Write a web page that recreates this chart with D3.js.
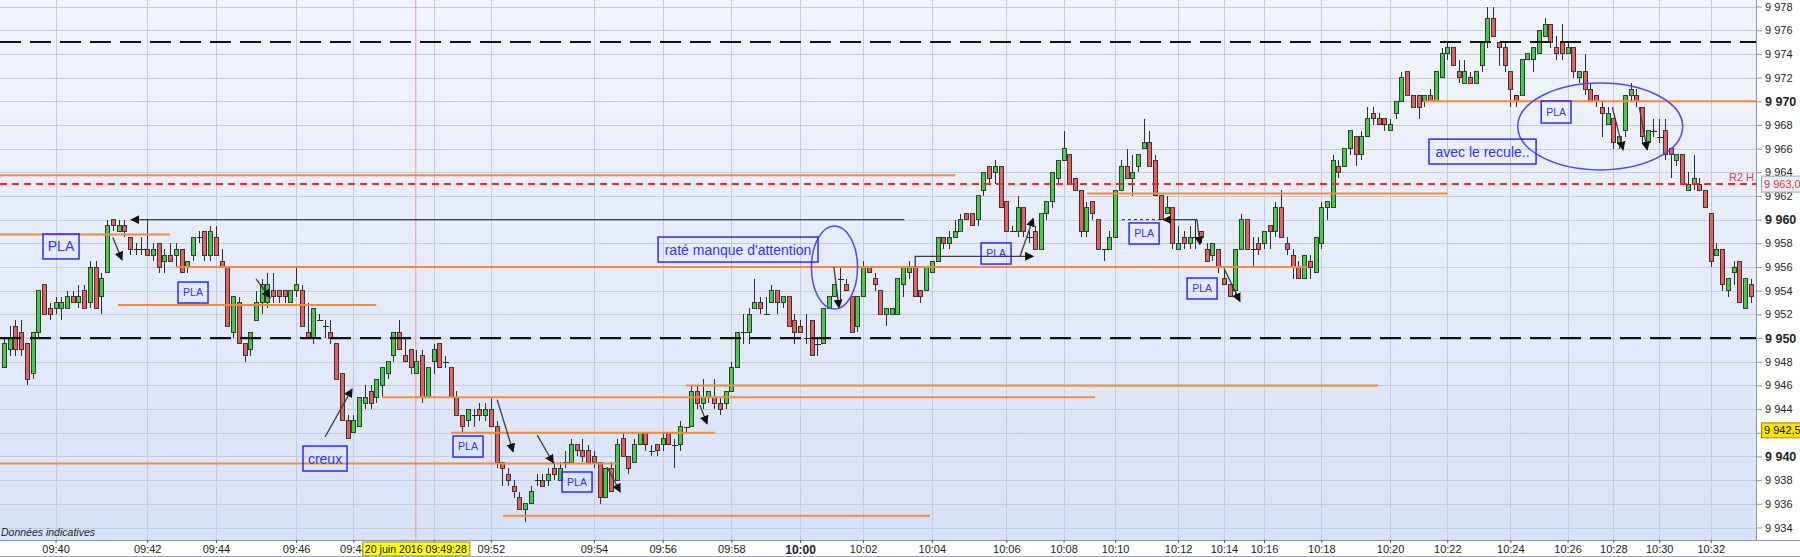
<!DOCTYPE html>
<html><head><meta charset="utf-8">
<script src="https://cdn.jsdelivr.net/npm/d3@7"></script>
<style>
body{margin:0;background:#fff;}
svg{display:block;font-family:"Liberation Sans",Arial,sans-serif;}
</style>
</head><body>
<svg id="chart" width="1800" height="557"></svg>
<script>
// ---- DATA: candles [open, high, low, close], one array per time block ----
const seg0939 = [
[9947.5,9950,9947.5,9949.5],[9949,9951,9948.5,9950],[9951,9951.5,9948.5,9949],[9950.5,9951.5,9948.5,9949],[9949.5,9949.5,9946,9946.5],
[9947,9950.5,9946.5,9950.5],[9950.5,9954,9950,9954],[9954.5,9954.5,9952,9952],[9952.5,9953,9951.5,9952],[9952.5,9953.5,9952,9953],
[9952.5,9953.5,9951.5,9953],[9952.5,9954,9952.5,9953.5],[9953.5,9954,9953,9953],[9953,9954.5,9952.5,9953.5],[9954,9954.5,9952.5,9952.5],
[9953,9956.5,9952.5,9956],[9956,9956.5,9952.5,9952.5],[9953.5,9955.5,9952,9955],[9955.5,9960,9955.5,9959.5],[9960,9960,9959,9959.5],
[9959,9960,9959,9959.5],[9959.5,9960,9958.5,9959],[9958.5,9958.5,9957,9957.5],[9957.5,9958,9957,9957.5],[9957.5,9958.5,9957,9957.5],
[9957.5,9960,9957,9957],[9957,9958,9956.5,9957.5],[9958,9958,9955.5,9956],[9956.5,9957.5,9955.5,9957],[9957,9958,9956.5,9956.5],
[9957,9958,9956,9957.5],[9957.5,9957.5,9955.5,9955.5],[9956,9956.5,9955.5,9956.5],[9957,9958.5,9956.5,9958.5],[9958.5,9959,9958,9958.5],
[9959,9959,9956.5,9957],[9957,9959.5,9956.5,9959],[9958.5,9959.5,9957,9957],[9956.5,9957.5,9956,9956],[9956,9956,9951,9951],
[9950.5,9953.5,9950,9953.5],[9953,9953.5,9949.5,9949.5],[9949.5,9949.5,9948,9948.5],[9949,9950.5,9948.5,9950.5],[9951.5,9954,9951.5,9953],
[9953,9955,9952,9954.5],[9953,9955.5,9952.5,9954.5],[9954,9955.5,9953,9953.5],[9954,9954,9953,9953.5],[9954,9954,9953,9953.5],
[9953,9954,9953,9954],[9954,9956,9953.5,9954.5],[9954,9954.5,9951,9951],[9950.5,9953,9950,9950],[9950,9952.5,9949.5,9952.5],
[9951.5,9952,9951.5,9951.5],[9951,9951.5,9950,9951],[9950.5,9951.5,9949.5,9950],[9949.5,9949.5,9946.5,9946.5],[9947,9947,9943,9943],
[9943,9943.5,9941.5,9941.5],[9942,9943.5,9942,9943],[9942.5,9945,9942.5,9945],[9944.5,9946,9944,9945],[9945.5,9946,9944,9944.5],
[9945,9946.5,9944.5,9946.5],[9946,9947.5,9945,9947.5],[9947,9948,9946.5,9948],[9948.5,9950.5,9948,9950.5],[9950.5,9951.5,9949,9949],
[9948.5,9950,9948,9948],[9949,9949,9947,9947.5],[9947,9949,9947,9948],[9948.5,9949,9944.5,9945],[9945,9947.5,9945,9947.5],
[9948,9949.5,9947,9949]
];
const seg0950 = [
[9949.5,9949.5,9947.5,9947.5],[9948,9948.5,9947.5,9948],[9947.5,9947.5,9945,9945],[9945,9945.5,9943.5,9943.5],[9943.5,9943.5,9942,9942.5],
[9943,9944,9942.5,9944],[9943.5,9944,9942.5,9943.5],[9944,9944.5,9943,9943.5],[9943.5,9944.5,9943,9944],[9944,9945,9942.5,9942.5],
[9942.5,9943,9939,9939.5],[9939.5,9939.5,9937.5,9939],[9938.5,9939,9937.5,9938],[9937.5,9938,9936.5,9937],[9936.5,9937,9935.5,9935.5],
[9935.5,9936,9934.5,9936],[9936,9937.5,9936,9937],[9938,9938.5,9937.5,9938],[9938,9938.5,9937.5,9937.5],[9938,9939,9937.5,9938.5],
[9939,9939.5,9938,9938.5],[9938,9939.5,9938,9939],[9939.5,9940.5,9939,9939.5],[9939.5,9941.5,9939.5,9941],[9941,9941,9940,9940.5],
[9940.5,9941.5,9939.5,9940],[9940.5,9941,9939.5,9939.5],[9940,9940.5,9939,9939.5],[9939.5,9939.5,9936,9936.5],[9936.5,9939,9936.5,9939],
[9939,9939.5,9937,9937],[9938,9941.5,9938,9941],[9941.5,9942,9940,9940],[9940,9940,9938.5,9939],[9939.5,9941.5,9939.5,9941],
[9941,9942,9941,9942],[9942,9942,9940.5,9941],[9940.5,9941,9940,9940.5],[9941,9941,9940,9940.5],[9941,9942,9940.5,9941.5],
[9942,9942,9941,9941],[9941,9941.5,9939,9941],[9941,9943,9940.5,9942.5],[9942.5,9942.5,9942,9942.5],[9942.5,9946,9942.5,9945.5],
[9945.5,9946,9944,9944.5],[9944.5,9946.5,9944,9945],[9945,9945.5,9944.5,9945.5],[9945,9946.5,9944,9944.5],[9944.5,9945,9943.5,9944],
[9944.5,9945.5,9944,9945.5],[9945.5,9948,9945.5,9947.5],[9947.5,9950.5,9947.5,9950.5],[9950.5,9952,9949.5,9950.5],[9950.5,9952.5,9949.5,9952],
[9952.5,9955,9952.5,9953],[9953,9953.5,9952,9952.5],[9952,9953.5,9952,9952],[9953,9954.5,9953,9954],[9954,9954,9952,9953],
[9953,9953.5,9952.5,9953.5],[9953.5,9953.5,9951,9951],[9951.5,9952,9949.5,9950.5],[9951,9951.5,9950.5,9950.5],[9950,9952,9949.5,9950],
[9951.5,9951.5,9948.5,9948.5],[9949.5,9950,9948.5,9949.5],[9949.5,9952.5,9949.5,9952.5],[9952.5,9953.5,9952.5,9953.5],[9953.5,9954.5,9953.5,9954.5],
[9955,9956,9953,9955],[9954.5,9955,9954,9954],[9953.5,9953.5,9950.5,9950.5],[9951,9953.5,9950.5,9953.5],[9953.5,9956.5,9953.5,9956]
];
const seg1002 = [
[9956,9956,9955.5,9955.5],[9955,9955.5,9954,9954.5],[9954,9954,9952,9952],[9952,9952.5,9951,9952.5],[9952,9952.5,9952,9952.5],
[9952,9955,9952,9955],[9954.5,9956,9953.5,9956],[9955.5,9956.5,9955,9956],[9956,9956,9953.5,9953.5],[9954,9954,9953,9953.5],
[9954,9956,9954,9956],[9955.5,9956.5,9955.5,9956.5],[9956.5,9958.5,9956.5,9958.5],[9958.5,9958.5,9957.5,9958],[9958,9959,9957.5,9958.5],
[9958.5,9960,9958.5,9959],[9959,9960.5,9959,9960],[9960.5,9960.5,9960,9960],[9960.5,9960.5,9959.5,9959.5],[9960,9962,9959.5,9962],
[9962.5,9964,9962,9964],[9964.5,9964.5,9963,9963.5],[9964,9965,9963,9964.5],[9964.5,9964.5,9961,9961],[9961.5,9961.5,9959,9959],
[9959,9959.5,9959,9959],[9959,9962,9958.5,9961],[9961,9961,9958.5,9959],[9958.5,9959,9958,9958.5],[9959,9959.5,9957.5,9957.5],
[9957.5,9960.5,9957.5,9960.5],[9960.5,9961.5,9960,9961.5],[9961.5,9964,9961,9964],[9963.5,9965,9963,9965],[9965,9967.5,9965,9966],
[9965.5,9965.5,9963,9963],[9963.5,9963.5,9962.5,9962.5],[9962.5,9962.5,9958.5,9959],[9959,9961.5,9958.5,9961],[9961.5,9961.5,9960,9960.5],
[9960,9960,9957.5,9957.5],[9957.5,9957.5,9956.5,9957.5],[9957.5,9959,9957.5,9958.5],[9958.5,9962.5,9958.5,9962.5],[9962.5,9965,9962.5,9964.5],
[9964.5,9966,9963.5,9963.5],[9963.5,9965.5,9962,9964],[9964.5,9965.5,9964,9965.5],[9966,9968.5,9966,9966.5],[9966.5,9967.5,9964.5,9964.5],
[9965,9965.5,9962,9962],[9962,9962,9960,9960],[9960.5,9962,9960.5,9961],[9961,9961,9957.5,9958],[9957.5,9959.5,9957.5,9958],
[9958.5,9959,9957.5,9958],[9958,9959.5,9957.5,9958.5],[9958.5,9960,9957.5,9958.5],[9959,9959,9958,9958.5],[9957.5,9958,9956.5,9956.5],
[9957,9958,9956.5,9958],[9957.5,9957.5,9955.5,9956],[9955,9956,9954.5,9954.5],[9954.5,9954.5,9953.5,9953.5],[9954,9957.5,9953.5,9957.5],
[9957.5,9960.5,9957.5,9960],[9960,9960,9957.5,9957.5],[9957.5,9958.5,9956,9957.5],[9958,9958.5,9957,9957.5],[9958,9959,9957.5,9959],
[9959.5,9959.5,9957.5,9959],[9959,9961.5,9958.5,9961],[9961,9962.5,9958.5,9958.5],[9958,9958.5,9957,9957.5],[9957,9957.5,9955,9956],
[9956,9956.5,9955,9955],[9955,9957,9955,9957],[9956.5,9957,9955,9956],[9955.5,9958.5,9955.5,9958.5],[9958,9961.5,9957.5,9961]
];
const seg1018 = [
[9961,9961.5,9960,9961.5],[9961,9965.5,9961,9965],[9964.5,9965,9963.5,9964],[9964.5,9966,9964.5,9966],[9966,9967.5,9965.5,9967.5],
[9967,9967,9964.5,9965.5],[9965.5,9967.5,9965,9967],[9967,9969.5,9967,9968.5],[9969,9969.5,9968,9968.5],[9968.5,9969,9968,9968],
[9968.5,9968.5,9967.5,9968],[9967.5,9968.5,9967.5,9968],[9969,9970,9968.5,9970],[9970,9972.5,9970,9972],[9972.5,9972.5,9970.5,9970.5],
[9970.5,9970.5,9969.5,9969.5],[9970.5,9970.5,9968.5,9969.5],[9970,9970.5,9969.5,9970.5],[9970.5,9971,9970,9970],[9970,9972.5,9970,9972.5],
[9972,9974.5,9972,9974],[9974,9975,9973.5,9974.5],[9974.5,9974.5,9973,9973],[9972.5,9973.5,9971.5,9972],[9971.5,9973.5,9971.5,9972.5],
[9972,9972.5,9971.5,9971.5],[9971.5,9972.5,9971.5,9972.5],[9973,9975,9972.5,9975],[9975,9978,9974.5,9977],[9977,9978,9975.5,9975.5],
[9975,9975,9973,9974.5],[9974.5,9975,9972.5,9973],[9972.5,9972.5,9969.5,9971],[9970.5,9970.5,9969.5,9970],[9970.5,9973.5,9970.5,9973.5],
[9973.5,9974,9973.5,9974],[9973.5,9974.5,9972.5,9974.5],[9974,9976,9974,9976],[9975.5,9977,9975.5,9976.5],[9976.5,9976.5,9974.5,9975],
[9974.5,9975.5,9973.5,9974],[9975,9976.5,9973.5,9974],[9974,9975,9974,9974.5],[9974.5,9974.5,9972,9972.5],[9972,9972.5,9971.5,9972.5],
[9972.5,9974,9970.5,9971],[9971,9971.5,9970,9970],[9970.5,9970.5,9969.5,9970],[9969.5,9970,9967,9969],[9968,9969.5,9968,9969],
[9968.5,9968.5,9966,9966.5],[9966.5,9967,9966,9967],[9967.5,9970.5,9967,9970.5],[9970.5,9971.5,9970,9971],[9970.5,9971,9969.5,9970],
[9969.5,9969.5,9966.5,9967],[9966.5,9967.5,9966.5,9967.5],[9967.5,9968.5,9967,9967.5],[9967,9968.5,9966.5,9967],[9967.5,9968.5,9965,9965.5],
[9966,9966,9963.5,9965.5],[9965,9965.5,9964.5,9965.5],[9965.5,9965.5,9963,9963],[9962.5,9964,9962.5,9963],[9963,9965.5,9962.5,9963.5],
[9963,9963.5,9962.5,9962.5],[9962.5,9962.5,9961,9961],[9960.5,9960.5,9956,9956.5],[9957,9958,9957,9957.5],[9957.5,9957.5,9954,9954.5],
[9954,9955,9953.5,9955],[9955.5,9956.5,9954.5,9956],[9956.5,9956.5,9953,9953],[9952.5,9955,9952.5,9955],[9954.5,9955,9953,9953.5]
];

// time axis: labels and the candle index where each label sits
// ("09:50" is hidden under the cursor date label in the reference)
const timeLabels = ["09:40","09:42","09:44","09:46","09:48","","09:52","09:54","09:56","09:58","10:00","10:02","10:04","10:06","10:08","10:10","10:12","10:14","10:16","10:18","10:20","10:22","10:24","10:26","10:28","10:30","10:32"];
const timeIndex  = [9,25,37,51,61,75,85,103,115,127,139,150,162,175,185,194,205,213,220,230,242,252,263,273,281,289,298];
const priceTicks = d3.range(9934, 9979, 2);
const hiddenPriceLabel = 9942; // covered by the last-price tag

// annotation levels
const orangeLevels = [ // [price, fromIndex, toIndex]
  [9963.75,-0.7,166.1],[9958.75,-0.7,29.0],[9956.0,30.0,227.7],[9952.8,19.9,65.0],
  [9946.0,119.1,239.9],[9945.0,66.0,190.5],[9942.0,78.05,124.1],[9939.4,-0.7,107.0],
  [9935.0,87.1,161.7],[9962.2,189.1,252.0],[9970.0,247.8,305.9]
];
const blackDashedLevels = [9950, 9975];
const pivotLevel = 9963.0;
const pivotName = "R2 H";
const lastPrice = 9942.5;
const cursorIndex = 71.9;
const cursorLabel = "20 juin 2016 09:49:28";

const arrowPaths = [ // polylines [index, price], arrow head at last point
  [[157.2,9960.0],[22.2,9960.0]],
  [[19.0,9958.5],[20.6,9956.6]],
  [[44.0,9955.0],[46.45,9953.4]],
  [[56.05,9941.65],[60.77,9945.7]],
  [[86.1,9944.8],[88.9,9940.4]],
  [[93.1,9941.8],[95.9,9939.45]],
  [[105.3,9939.1],[107.6,9937.0]],
  [[121.5,9944.35],[122.75,9942.75]],
  [[144.9,9956.0],[145.8,9952.55]],
  [[159.1,9956.0],[159.1,9956.9],[179.7,9956.9]],
  [[177.4,9956.9],[179.7,9960.1]],
  [[208.3,9960.0],[202.4,9960.0]],
  [[208.3,9960.0],[208.8,9957.9]],
  [[213.0,9955.9],[215.8,9953.1]],
  [[280.8,9969.5],[282.7,9965.9]],
  [[285.5,9969.5],[286.9,9965.9]]
];
const dashedSegments = [[[195.2,9960.0],[202.2,9960.0]]];
const ellipses = [ // [centerIndex, centerPrice, radiusIndex, radiusPrice]
  [145.0,9955.96,4.02,3.5],[278.7,9967.87,14.4,3.67]
];
const boxes = [ // [text, i0, i1, priceTop, priceBottom, fontSize]
  ["PLA",6.81,13.1,9958.79,9956.68,14],
  ["PLA",30.38,35.62,9954.73,9952.96,10.5],
  ["creux",52.2,59.9,9940.88,9938.77,14],
  ["PLA",78.4,83.64,9941.73,9939.95,10.5],
  ["PLA",97.43,102.67,9938.69,9937.0,10.5],
  ["raté manque d'attention",114.2,142.13,9958.53,9956.42,14],
  ["PLA",170.6,175.83,9958.03,9956.25,10.5],
  ["PLA",196.44,201.68,9959.72,9957.94,10.5],
  ["PLA",206.57,211.8,9955.07,9953.3,10.5],
  ["PLA",268.4,273.6,9970.02,9968.16,10.5],
  ["avec le recule..",248.8,267.5,9966.8,9964.7,14]
];

// ---- CHART ----
const candles = [].concat(seg0939, seg0950, seg1002, seg1018)
  .map((d, i) => ({i, o: d[0], h: d[1], l: d[2], c: d[3]}));

const plotW = 1756, plotH = 540;
const x = d3.scaleLinear().domain([-0.7, 305.9]).range([0, plotW]);
const y = d3.scaleLinear().domain([9934, 9978]).range([527.5, 6.5]);

const svg = d3.select("#chart");
const defs = svg.append("defs");
const grad = defs.append("linearGradient").attr("id","bg").attr("x1",0).attr("y1",0).attr("x2",0).attr("y2",1);
grad.append("stop").attr("offset","0%").attr("stop-color","#f1f4fc");
grad.append("stop").attr("offset","100%").attr("stop-color","#d8e2f8");
defs.append("clipPath").attr("id","clip").append("rect").attr("width",plotW).attr("height",plotH);
defs.append("marker").attr("id","head").attr("viewBox","0 0 10 10").attr("refX",9).attr("refY",5)
  .attr("markerWidth",9).attr("markerHeight",9).attr("markerUnits","userSpaceOnUse").attr("orient","auto")
  .append("path").attr("d","M0,0 L10,5 L0,10 z").attr("fill","#111");

svg.append("rect").attr("width",plotW).attr("height",plotH).attr("fill","url(#bg)");

const g = svg.append("g").attr("clip-path","url(#clip)");

// grid
g.selectAll(".hg").data(priceTicks).join("line")
  .attr("x1",0).attr("x2",plotW).attr("y1",d=>Math.round(y(d))+0.5).attr("y2",d=>Math.round(y(d))+0.5)
  .attr("stroke","#c4ccdc").attr("stroke-width",1);
g.selectAll(".vg").data(timeIndex).join("line")
  .attr("x1",d=>Math.round(x(d))+0.5).attr("x2",d=>Math.round(x(d))+0.5).attr("y1",0).attr("y2",plotH)
  .attr("stroke","#c4ccdc").attr("stroke-width",1);

// cursor line
g.append("line").attr("x1",x(cursorIndex)).attr("x2",x(cursorIndex)).attr("y1",0).attr("y2",plotH)
  .attr("stroke","#f29595").attr("stroke-width",1);

// candles
const bw = 4.2;
const cg = g.append("g").attr("shape-rendering","crispEdges");
cg.selectAll(".wick").data(candles).join("line")
  .attr("x1",d=>Math.round(x(d.i))+0.5).attr("x2",d=>Math.round(x(d.i))+0.5)
  .attr("y1",d=>y(d.h)).attr("y2",d=>y(d.l)).attr("stroke","#2e2e2e").attr("stroke-width",1);
cg.selectAll(".body").data(candles.filter(d=>d.o!==d.c)).join("rect")
  .attr("x",d=>Math.round(x(d.i))-2).attr("width",bw+0.3)
  .attr("y",d=>y(Math.max(d.o,d.c))).attr("height",d=>Math.max(1,y(Math.min(d.o,d.c))-y(Math.max(d.o,d.c))))
  .attr("fill",d=>d.c>d.o?"#45cb45":"#e2615c").attr("stroke","#2c2c2c").attr("stroke-width",0.9);
cg.selectAll(".doji").data(candles.filter(d=>d.o===d.c)).join("line")
  .attr("x1",d=>Math.round(x(d.i))-2.5).attr("x2",d=>Math.round(x(d.i))+3.5)
  .attr("y1",d=>Math.round(y(d.o))+0.5).attr("y2",d=>Math.round(y(d.o))+0.5)
  .attr("stroke","#2a2a2a").attr("stroke-width",1.2);

// orange levels
g.selectAll(".ol").data(orangeLevels).join("line")
  .attr("x1",d=>x(d[1])).attr("x2",d=>x(d[2])).attr("y1",d=>y(d[0])).attr("y2",d=>y(d[0]))
  .attr("stroke","#f7883f").attr("stroke-width",2);
// black dashed
g.selectAll(".bl").data(blackDashedLevels).join("line")
  .attr("x1",0).attr("x2",plotW).attr("y1",d=>y(d)).attr("y2",d=>y(d))
  .attr("stroke","#111").attr("stroke-width",2.2).attr("stroke-dasharray","21,9");
// pivot
g.append("line").attr("x1",0).attr("x2",plotW).attr("y1",y(pivotLevel)).attr("y2",y(pivotLevel))
  .attr("stroke","#f0262a").attr("stroke-width",2).attr("stroke-dasharray","7,5");

// arrows
const line = d3.line().x(d=>x(d[0])).y(d=>y(d[1]));
g.selectAll(".arr").data(arrowPaths).join("path")
  .attr("d",line).attr("fill","none").attr("stroke","#3c3c3c").attr("stroke-width",1.3)
  .attr("marker-end","url(#head)");
g.selectAll(".dseg").data(dashedSegments).join("path")
  .attr("d",line).attr("fill","none").attr("stroke","#222").attr("stroke-width",1).attr("stroke-dasharray","3,3");

// ellipses
g.selectAll(".ell").data(ellipses).join("ellipse")
  .attr("cx",d=>x(d[0])).attr("cy",d=>y(d[1]))
  .attr("rx",d=>x(d[0]+d[2])-x(d[0])).attr("ry",d=>y(d[1]-d[3])-y(d[1]))
  .attr("fill","none").attr("stroke","#4b4bf5").attr("stroke-width",1.5);

// boxes
const bxg = g.selectAll(".box").data(boxes).join("g");
bxg.append("rect").attr("x",d=>x(d[1])).attr("y",d=>y(d[3]))
  .attr("width",d=>x(d[2])-x(d[1])).attr("height",d=>y(d[4])-y(d[3]))
  .attr("fill","none").attr("stroke","#2c2cf5").attr("stroke-width",1.5);
bxg.append("text").attr("x",d=>(x(d[1])+x(d[2]))/2).attr("y",d=>(y(d[3])+y(d[4]))/2)
  .attr("dy","0.36em").attr("text-anchor","middle").attr("font-size",d=>d[5]+"px")
  .attr("fill","#3434f5").text(d=>d[0]);

// pivot name
svg.append("text").attr("x",1754).attr("y",y(pivotLevel)-3).attr("text-anchor","end")
  .attr("font-size","11px").attr("fill","#f03c3c").text(pivotName);

// "Données indicatives"
svg.append("text").attr("x",1).attr("y",536).attr("font-size","10.5px").attr("font-style","italic")
  .attr("fill","#222").text("Données indicatives");

// Y axis
const fmt = d => d === hiddenPriceLabel ? "" : d3.format(",")(d).replace(","," ");
const yAxis = svg.append("g").attr("transform",`translate(${plotW},0)`)
  .call(d3.axisRight(y).tickValues(priceTicks).tickSize(6).tickPadding(3).tickFormat(fmt));
yAxis.select(".domain").attr("d",`M0.5,0V${plotH}`).attr("stroke","#8c96a8");
yAxis.selectAll(".tick line").attr("stroke","#8c96a8");
yAxis.selectAll(".tick text").attr("fill","#222").attr("font-family","Liberation Sans, Arial, sans-serif")
  .attr("font-size",d=>d%10===0?"12.5px":"11px").attr("font-weight",d=>d%10===0?"bold":"normal");

// price labels on axis
const pl = svg.append("g");
pl.append("rect").attr("x",1761.5).attr("y",y(pivotLevel)-8).attr("width",40).attr("height",16)
  .attr("fill","#e9eff9").attr("stroke","#9aa6b8");
pl.append("text").attr("x",1764).attr("y",y(pivotLevel)).attr("dy","0.36em").attr("font-size","11px")
  .attr("fill","#f03030").text(d3.format(",.1f")(pivotLevel).replace(","," ").replace(".",","));
pl.append("rect").attr("x",1761.5).attr("y",y(lastPrice)-4).attr("width",40).attr("height",15)
  .attr("fill","#f6e400").attr("stroke","#a08a00");
pl.append("text").attr("x",1764).attr("y",y(lastPrice)+3.5).attr("dy","0.36em").attr("font-size","11px")
  .attr("fill","#111").text(d3.format(",.1f")(lastPrice).replace(","," ").replace(".",","));

// X axis
const cx = x(cursorIndex);
defs.append("clipPath").attr("id","xlabclip").append("rect")
  .attr("x",-10).attr("y",0).attr("width",cx-53+10).attr("height",20);
const xAxis = svg.append("g").attr("transform",`translate(0,${plotH})`)
  .call(d3.axisBottom(x).tickValues(timeIndex).tickSize(3).tickPadding(2).tickFormat((d,i)=>timeLabels[i]));
xAxis.select(".domain").attr("d",`M0,0.5H1800`).attr("stroke","#8c96a8");
xAxis.selectAll(".tick line").attr("stroke","#555");
xAxis.selectAll(".tick text").attr("fill","#222").attr("font-family","Liberation Sans, Arial, sans-serif")
  .attr("font-size",d=>d===139?"12px":"11px").attr("font-weight",d=>d===139?"bold":"normal");
// label partly hidden behind the cursor tag: clip it at the tag's left edge
xAxis.selectAll(".tick").filter(d=>d===61).select("text")
  .attr("clip-path","url(#xlabclip)")
  .attr("transform",`translate(${-x(61)},0)`).attr("x",x(61));

// cursor date label
svg.append("rect").attr("x",cx-53).attr("y",542).attr("width",107).attr("height",14)
  .attr("fill","#ffff10").attr("stroke","#8a8a40");
svg.append("text").attr("x",cx).attr("y",553).attr("text-anchor","middle").attr("font-size","10.5px")
  .attr("textLength",102).attr("lengthAdjust","spacingAndGlyphs").attr("fill","#111").text(cursorLabel);

svg.append("line").attr("x1",0).attr("x2",1800).attr("y1",556.5).attr("y2",556.5).attr("stroke","#9aa3b3");
</script>
</body></html>
